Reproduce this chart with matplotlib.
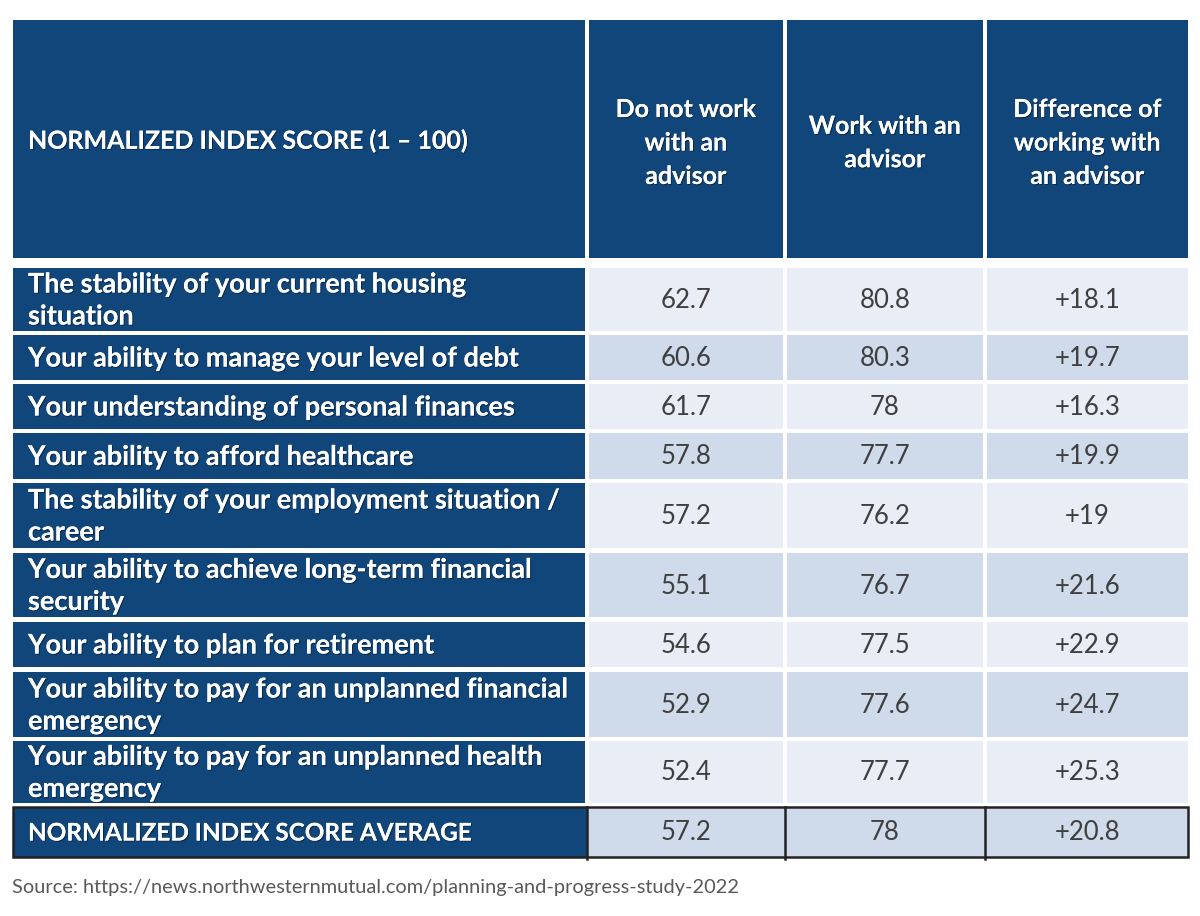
import matplotlib.pyplot as plt
import matplotlib.patheffects as pe
from matplotlib.patches import Rectangle

# =========================
# Data
# =========================
HEADER_LABEL = "NORMALIZED INDEX SCORE (1 – 100)"
COL_HEADERS = ["Do not work\nwith an\nadvisor", "Work with an\nadvisor",
               "Difference of\nworking with\nan advisor"]

ROW_LABELS = [
    "The stability of your current housing\nsituation",
    "Your ability to manage your level of debt",
    "Your understanding of personal finances",
    "Your ability to afford healthcare",
    "The stability of your employment situation /\ncareer",
    "Your ability to achieve long-term financial\nsecurity",
    "Your ability to plan for retirement",
    "Your ability to pay for an unplanned financial\nemergency",
    "Your ability to pay for an unplanned health\nemergency",
]
no_advisor = ["62.7", "60.6", "61.7", "57.8", "57.2", "55.1", "54.6", "52.9", "52.4"]
with_advisor = ["80.8", "80.3", "78", "77.7", "76.2", "76.7", "77.5", "77.6", "77.7"]
difference = ["+18.1", "+19.7", "+16.3", "+19.9", "+19", "+21.6", "+22.9", "+24.7", "+25.3"]

AVG_LABEL = "NORMALIZED INDEX SCORE AVERAGE"
avg_values = ["57.2", "78", "+20.8"]

SOURCE = "Source: https://news.northwesternmutual.com/planning-and-progress-study-2022"

# =========================
# Layout / style (pixels)
# =========================
W, H = 1200, 916
col_edges = [(13, 585), (589, 783), (787, 983), (987, 1188)]
header_span = (20, 258)
row_spans = [(268, 331), (335, 380), (384, 429), (433, 479), (483, 548),
             (553, 617), (622, 667), (672, 737), (741, 803)]
avg_span = (807, 857)

NAVY = "#10467A"
LIGHT = "#E9EDF5"
DARK = "#CFDAEA"
VALUE_COLOR = "#3F3F3F"
FONT = "Lato"
FS = 19.5
FS_VAL = 18.5
FS_HEAD = 18
FS_AVG = 17.5

shadow = [pe.withSimplePatchShadow(offset=(0.8, -0.8), shadow_rgbFace="#0a2440", alpha=0.8), pe.Normal()]

fig = plt.figure(figsize=(W / 100, H / 100), dpi=100)
ax = fig.add_axes([0, 0, 1, 1])
ax.set_xlim(0, W)
ax.set_ylim(H, 0)
ax.axis("off")


def cell(x0, x1, y0, y1, color):
    ax.add_patch(Rectangle((x0, y0), x1 - x0, y1 - y0, facecolor=color,
                           edgecolor=color, linewidth=0))


# header
y0, y1 = header_span
for x0, x1 in col_edges:
    cell(x0, x1, y0, y1, NAVY)
ax.text(col_edges[0][0] + 15, (y0 + y1) / 2 + 2, HEADER_LABEL, ha="left", va="center",
        color="white", fontsize=FS_HEAD, fontweight="bold", family=FONT, path_effects=shadow)
for (x0, x1), txt in zip(col_edges[1:], COL_HEADERS):
    ax.text((x0 + x1) / 2, (y0 + y1) / 2 + 4, txt, ha="center", va="center", color="white",
            fontsize=FS_HEAD, fontweight="bold", family=FONT, linespacing=1.55, path_effects=shadow)

# body rows
for r, (y0, y1) in enumerate(row_spans):
    bg = LIGHT if r % 2 == 0 else DARK
    cell(*col_edges[0], y0, y1, NAVY)
    ax.text(col_edges[0][0] + 15, (y0 + y1) / 2 + 1, ROW_LABELS[r], ha="left", va="center",
            color="white", fontsize=FS, fontweight="bold", family=FONT, linespacing=1.4,
            path_effects=shadow)
    for (x0, x1), val in zip(col_edges[1:], [no_advisor[r], with_advisor[r], difference[r]]):
        cell(x0, x1, y0, y1, bg)
        ax.text((x0 + x1) / 2, (y0 + y1) / 2 + 1, val, ha="center", va="center",
                color=VALUE_COLOR, fontsize=FS_VAL, family=FONT)

# average row
y0, y1 = avg_span
cell(col_edges[0][0], col_edges[-1][1], y0, y1, DARK)
cell(col_edges[0][0], col_edges[1][0] - 2, y0, y1, NAVY)
ax.add_patch(Rectangle((col_edges[0][0], y0), col_edges[-1][1] - col_edges[0][0], y1 - y0,
                       fill=False, edgecolor="#222222", linewidth=1.8))
for x0, _ in col_edges[1:]:
    ax.plot([x0 - 2, x0 - 2], [y0, y1 + 2], color="#222222", linewidth=1.8)
ax.text(col_edges[0][0] + 15, (y0 + y1) / 2 + 1, AVG_LABEL, ha="left", va="center",
        color="white", fontsize=FS_AVG, fontweight="bold", family=FONT, path_effects=shadow)
for (x0, x1), val in zip(col_edges[1:], avg_values):
    ax.text((x0 + x1) / 2, (y0 + y1) / 2 + 1, val, ha="center", va="center",
            color=VALUE_COLOR, fontsize=FS_VAL, family=FONT)

# source
ax.text(12, 887, SOURCE, ha="left", va="center", color="#595959", fontsize=14.4, family=FONT)

fig.savefig("out.png", dpi=100, facecolor="white")
